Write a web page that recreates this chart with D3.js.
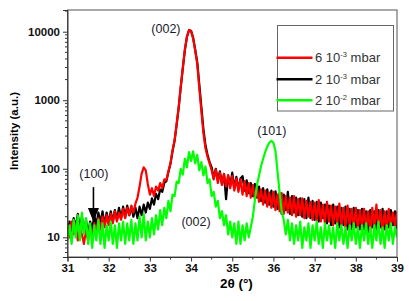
<!DOCTYPE html>
<html>
<head>
<meta charset="utf-8">
<script src="https://cdn.jsdelivr.net/npm/d3@7"></script>
<style>
  body { margin: 0; background: #fff; }
  #chart { width: 409px; height: 301px; }
  text { font-family: Arial, "Liberation Sans", sans-serif; }
</style>
</head>
<body>
<div id="chart"></div>
<script>
// 2theta grid: first angle and step between samples
var thetaStart = 31, thetaStep = 0.05;

// intensity, one value per 0.05 deg from 31 to 39
var red6e3 = [
  15,10,17,11,16,9,14,11,8,13,  9,15,10,16,12,19,13,20,14,21,
  15,22,16,24,17,23,18,26,19,27,  21,29,23,31,38,55,85,105,95,60,
  42,52,40,55,48,62,52,70,68,92,  120,187,260,450,800,1600,3000,5500,8500,10600,
  10200,8000,5300,3400,1500,700,330,200,150,120,  95,70,98,62,88,58,84,55,80,52,
  78,48,72,46,70,42,66,40,62,38,  58,36,54,33,50,30,48,28,45,27,
  46,25,42,24,44,22,40,23,38,21,  40,20,36,21,37,19,34,20,33,18,
  32,18,35,17,30,16,33,17,29,15,  28,16,31,15,27,14,29,15,26,14,
  27,13,25,14,26,13,24,12,27,14,  30,13,25,12,24,13,26,14,23,15,  24
];
var black2e3 = [
  11,17,12,19,14,22,13,20,12,18,  11,17,13,21,15,23,16,24,15,23,
  16,24,17,25,18,27,19,28,20,29,  21,28,20,27,19,28,21,30,23,32,
  26,37,30,43,36,50,46,62,66,90,  118,180,255,440,780,1550,2950,5400,8400,10500,
  10300,8200,5500,3600,1700,800,380,220,160,125,  105,72,100,68,92,60,84,36,80,56,
  88,52,76,50,72,78,48,68,44,62,  40,60,38,55,34,52,32,50,30,48,
  28,47,26,44,22,42,25,46,22,40,  23,38,21,37,20,36,19,38,19,34,
  18,33,17,32,19,30,16,29,15,30,  16,28,14,27,15,28,13,26,13,27,
  14,25,13,26,13,24,12,25,14,24,  13,25,14,26,13,24,14,25,15,24,  13
];
var green2e2 = [
  9,15,8,18,10,21,9,23,11,19,  8,16,7,15,9,18,8,16,7,15,
  9,17,8,15,7,16,9,17,8,16,  9,18,8,16,9,20,10,22,9,17,
  10,19,11,21,13,25,15,27,19,34,  24,42,40,65,62,100,82,140,105,175,
  130,180,120,160,95,125,80,108,62,70,  40,46,28,34,19,24,15,21,11,17,
  10,16,8,17,8,15,9,16,10,14,  20,35,58,80,110,140,175,210,240,255,
  240,180,90,45,24,18,11,18,9,16,  8,15,9,17,7,14,9,16,7,15,
  9,17,8,14,7,16,9,15,8,14,  7,16,9,15,8,14,7,15,9,16,
  8,14,7,15,9,16,8,14,7,15,  9,17,8,14,7,15,9,16,8,14,  10
];

var seriesNames = ["6 10", "2 10", "2 10"];
var seriesExps = ["-3", "-3", "-2"];
var seriesColors = ["#ff0000", "#000000", "#00ff00"];

var xTickValues = [31, 32, 33, 34, 35, 36, 37, 38, 39];
var yTickValues = [10, 100, 1000, 10000];

var peakLabels = ["(002)", "(101)", "(100)", "(002)"];
var peakTheta = [33.39, 35.96, 31.64, 34.12];
var peakValue = [9670, 311, 73, 14.6];

var W = 409, H = 301;
var margin = { top: 10, right: 12, bottom: 44, left: 67.5 };
var width = W - margin.left - margin.right,
    height = H - margin.top - margin.bottom;

var svg = d3.select("#chart").append("svg")
    .attr("width", W)
    .attr("height", H);

var g = svg.append("g")
    .attr("transform", "translate(" + margin.left + "," + margin.top + ")");

var x = d3.scaleLinear().domain([31, 39]).range([0, width]);
var y = d3.scaleLog().domain([5.16, 20730]).range([height, 0]);

g.append("clipPath").attr("id", "clip")
    .append("rect").attr("width", width).attr("height", height);

// curves: black under red, green on top
var line = d3.line()
    .x(function (d, i) { return x(thetaStart + i * thetaStep); })
    .y(function (d) { return y(d); });

[[black2e3, "#000000"], [red6e3, "#ff0000"], [green2e2, "#00ff00"]].forEach(function (s) {
    g.append("path")
        .datum(s[0])
        .attr("clip-path", "url(#clip)")
        .attr("fill", "none")
        .attr("stroke", s[1])
        .attr("stroke-width", 2.2)
        .attr("stroke-linejoin", "round")
        .attr("d", line);
});

// frame
g.append("rect")
    .attr("width", width).attr("height", height)
    .attr("fill", "none").attr("stroke", "#555").attr("stroke-width", 1);

// x axis
var xMinor = d3.range(31.5, 39, 1);
g.append("g").selectAll("line").data(xMinor).enter().append("line")
    .attr("x1", function (d) { return x(d); }).attr("x2", function (d) { return x(d); })
    .attr("y1", height).attr("y2", height + 2.5)
    .attr("stroke", "#333");

var xAxis = g.append("g")
    .attr("transform", "translate(0," + height + ")")
    .call(d3.axisBottom(x).tickValues(xTickValues).tickSize(4.5).tickPadding(2).tickFormat(d3.format("d")));
xAxis.select(".domain").attr("stroke", "#333");
xAxis.selectAll(".tick line").attr("stroke", "#333");
xAxis.selectAll("text")
    .style("font-size", "11.5px").style("font-weight", "bold").attr("fill", "#111");

// y axis with log minor ticks
var yMinor = [];
[1, 10, 100, 1000, 10000].forEach(function (dec) {
    for (var k = 2; k <= 9; k++) {
        var v = dec * k;
        if (v > 5.16 && v < 20730) yMinor.push(v);
    }
});
g.append("g").selectAll("line").data(yMinor).enter().append("line")
    .attr("x1", -2.5).attr("x2", 0)
    .attr("y1", function (d) { return y(d); }).attr("y2", function (d) { return y(d); })
    .attr("stroke", "#333");

var yAxis = g.append("g")
    .call(d3.axisLeft(y).tickValues(yTickValues).tickSize(4.5).tickPadding(3).tickFormat(d3.format("d")));
yAxis.select(".domain").attr("stroke", "#333");
yAxis.selectAll(".tick line").attr("stroke", "#333");
yAxis.selectAll("text")
    .style("font-size", "11.5px").style("font-weight", "bold").attr("fill", "#111");

// axis titles
svg.append("text")
    .attr("transform", "translate(18,131) rotate(-90)")
    .style("text-anchor", "middle")
    .style("font-size", "11.5px").style("font-weight", "bold")
    .text("Intensity (a.u.)");

svg.append("text")
    .attr("x", margin.left + x(35.1)).attr("y", 288)
    .style("text-anchor", "middle")
    .style("font-size", "13.5px").style("font-weight", "bold")
    .text("2\u03b8 (\u00b0)");

// peak labels
peakLabels.forEach(function (t, i) {
    g.append("text")
        .attr("x", x(peakTheta[i])).attr("y", y(peakValue[i]))
        .style("text-anchor", "middle")
        .style("font-size", "12.5px").attr("fill", "#1a1a2a")
        .text(t);
});

// arrow at (100)
var arrowX = x(31.63);
g.append("line")
    .attr("x1", arrowX).attr("x2", arrowX)
    .attr("y1", y(54)).attr("y2", y(26.8))
    .attr("stroke", "#000").attr("stroke-width", 1.6);
g.append("path")
    .attr("d", "M" + (arrowX - 5.5) + "," + y(26.8) + "L" + (arrowX + 5.5) + "," + y(26.8) + "L" + arrowX + "," + y(16.7) + "Z")
    .attr("fill", "#000");

// legend
var legend = svg.append("g");
legend.append("rect")
    .attr("x", 277.5).attr("y", 25.5).attr("width", 116).attr("height", 85.5)
    .attr("fill", "#fff").attr("stroke", "#666").attr("stroke-width", 1);

var legendY = [57.7, 79.3, 100.3];
seriesNames.forEach(function (name, i) {
    legend.append("line")
        .attr("x1", 276.5).attr("x2", 312.5)
        .attr("y1", legendY[i]).attr("y2", legendY[i])
        .attr("stroke", seriesColors[i]).attr("stroke-width", 2.5);
    var t = legend.append("text")
        .attr("x", 315).attr("y", legendY[i] + 4.5)
        .style("font-size", "13px").attr("fill", "#333");
    t.append("tspan").text(name);
    t.append("tspan").attr("dy", -5).style("font-size", "7.5px").text(seriesExps[i]);
    t.append("tspan").attr("dy", 5).text(" mbar");
});
</script>
</body>
</html>
